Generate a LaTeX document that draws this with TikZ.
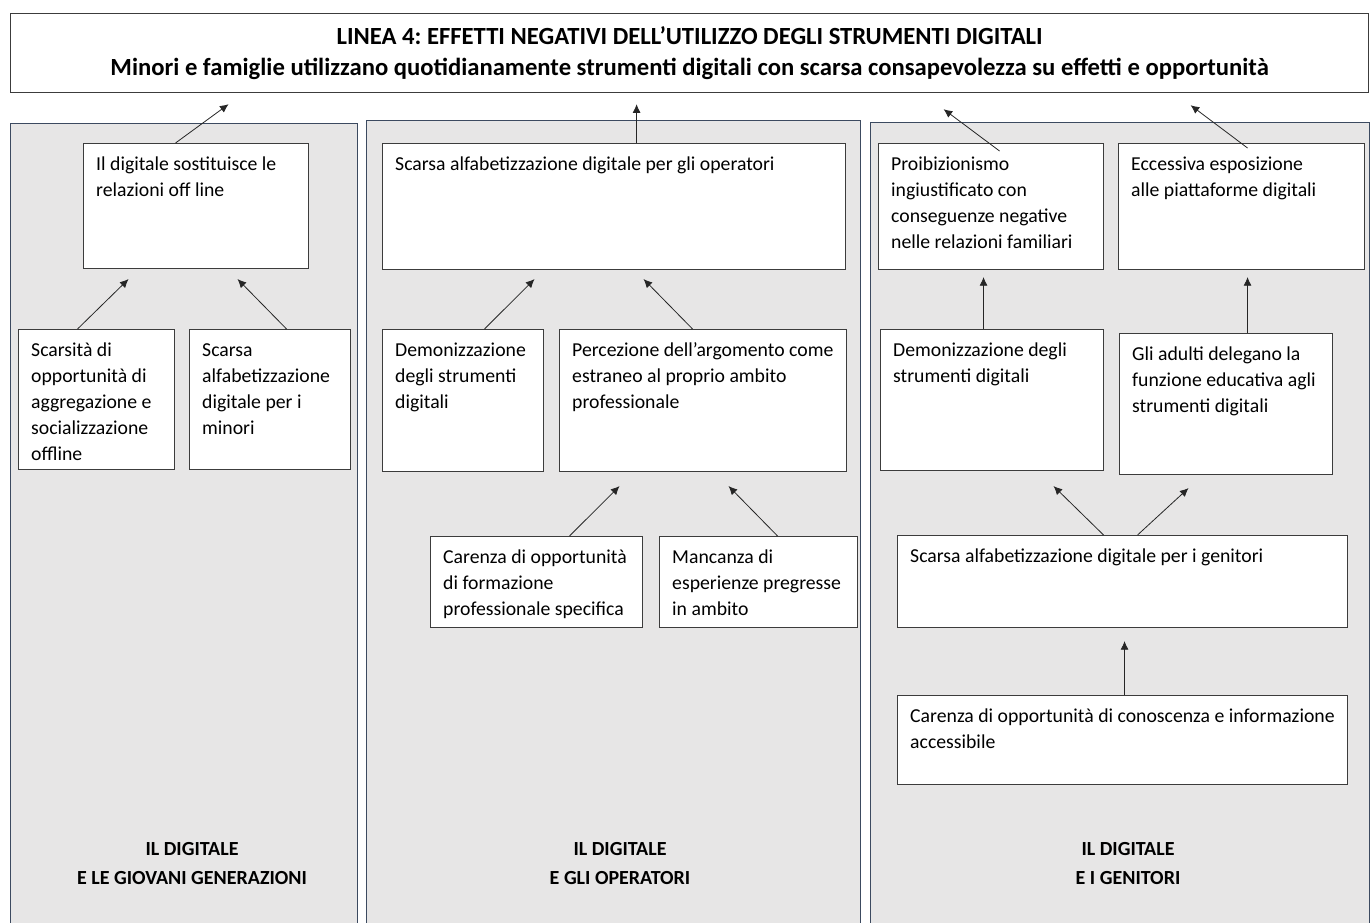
\documentclass[tikz,border=0pt]{standalone}
\usepackage{fontspec}
\setmainfont{Carlito}
\usepackage{tikz}
\usetikzlibrary{arrows.meta,calc}
\definecolor{panelgray}{RGB}{231,230,230}
\definecolor{panelblue}{RGB}{60,74,96}
\definecolor{boxgray}{RGB}{60,60,60}
\frenchspacing
\tikzset{
    titlebox/.style={rectangle, draw=boxgray, fill=white, line width=0.9pt, anchor=north west, align=center, font=\bfseries\fontsize{18.5}{23.25}\selectfont},
    panel/.style={rectangle, draw=panelblue, fill=panelgray, line width=1.1pt, anchor=north west, inner sep=0pt},
    cause/.style={rectangle, draw=boxgray, fill=white, line width=0.8pt, anchor=north west, align=flush left, inner xsep=9.5pt, inner ysep=0pt, text height=20pt, font=\fontsize{14.8}{19.5}\selectfont},
    myarrow/.style={-{Latex[length=6.5pt,width=6pt]}, draw=black!85, line width=0.6pt},
    mylabel/.style={align=center, font=\bfseries\fontsize{15}{21.75}\selectfont}
}
\begin{document}
\begin{tikzpicture}[x=0.75pt, y=-0.75pt]
\useasboundingbox (0,0) rectangle (1370,923);
\node[titlebox, minimum width=1018.5pt, minimum height=59.25pt] (title) at (10,13) {LINEA 4: EFFETTI NEGATIVI DELL’UTILIZZO DEGLI STRUMENTI DIGITALI\\Minori e famiglie utilizzano quotidianamente strumenti digitali con scarsa consapevolezza su effetti e opportunità};

\node[panel, minimum width=260.25pt, minimum height=609pt] (giovani) at (10,123) {};
\node[panel, minimum width=370.5pt, minimum height=611pt] (operatori) at (366,120) {};
\node[panel, minimum width=374.25pt, minimum height=610pt] (genitori) at (870,122) {};

\node[cause, text width=149.75pt, text depth=73.75pt] (sostituisce) at (83,143) {Il digitale sostituisce le\\relazioni off line};
\node[cause, text width=98pt, text depth=85pt] (aggregazione) at (18,329) {Scarsità di\\opportunità di\\aggregazione e\\socializzazione\\offline};
\node[cause, text width=101.75pt, text depth=85pt] (alfaminori) at (189,329) {Scarsa\\alfabetizzazione\\digitale per i\\minori};

\node[cause, text width=328.25pt, text depth=74.5pt] (alfaoperatori) at (382,143) {Scarsa alfabetizzazione digitale per gli operatori};
\node[cause, text width=101.75pt, text depth=86.5pt] (demonop) at (382,329) {Demonizzazione\\degli strumenti\\digitali};
\node[cause, text width=196.25pt, text depth=86.5pt] (percezione) at (559,329) {Percezione dell’argomento come\\estraneo al proprio ambito\\professionale};
\node[cause, text width=140pt, text depth=48.25pt] (formazione) at (430,536) {Carenza di opportunità\\di formazione\\professionale specifica};
\node[cause, text width=129.5pt, text depth=48.25pt] (esperienze) at (659,536) {Mancanza di\\esperienze pregresse\\in ambito};

\node[cause, text width=149.75pt, text depth=74.5pt] (proibizionismo) at (878,143) {Proibizionismo\\ingiustificato con\\conseguenze negative\\nelle relazioni familiari};
\node[cause, text width=165.5pt, text depth=74.5pt] (esposizione) at (1118,143) {Eccessiva esposizione\\alle piattaforme digitali};
\node[cause, text width=148.25pt, text depth=85.75pt] (demongen) at (880,329) {Demonizzazione degli\\strumenti digitali};
\node[cause, text width=140.75pt, text depth=85.75pt] (delegano) at (1119,333) {Gli adulti delegano la\\funzione educativa agli\\strumenti digitali};
\node[cause, text width=318.5pt, text depth=49pt] (alfagenitori) at (897,535) {Scarsa alfabetizzazione digitale per i genitori};
\node[cause, text width=318.5pt, text depth=46.75pt] (conoscenza) at (897,695) {Carenza di opportunità di conoscenza e informazione\\accessibile};

\node[mylabel] (labgiovani) at (192,864) {IL DIGITALE\\E LE GIOVANI GENERAZIONI};
\node[mylabel] (laboperatori) at (620,864) {IL DIGITALE\\E GLI OPERATORI};
\node[mylabel] (labgenitori) at (1128,864) {IL DIGITALE\\E I GENITORI};

\draw[myarrow] ($(sostituisce.north)+(-20.5,0)$) -- ($(title.south)+(-461,11)$);
\draw[myarrow] ($(aggregazione.north)+(-19,0)$) -- ($(sostituisce.south)+(-67.5,10)$);
\draw[myarrow] ($(alfaminori.north)+(16.5,0)$) -- ($(sostituisce.south)+(41.5,10)$);

\draw[myarrow] ($(alfaoperatori.north)+(22.5,0)$) -- ($(title.south)+(-53,11)$);
\draw[myarrow] ($(demonop.north)+(21.5,0)$) -- ($(alfaoperatori.south)+(-79.5,9)$);
\draw[myarrow] ($(percezione.north)+(-10.5,0)$) -- ($(alfaoperatori.south)+(29.5,9)$);
\draw[myarrow] ($(formazione.north)+(33,0)$) -- ($(percezione.south)+(-83.5,14)$);
\draw[myarrow] ($(esperienze.north)+(19,0)$) -- ($(percezione.south)+(25.5,14)$);

\draw[myarrow] ($(proibizionismo.north)+(8.5,8)$) -- ($(title.south)+(254,16)$);
\draw[myarrow] ($(esposizione.north)+(6,5)$) -- ($(title.south)+(501,12)$);
\draw[myarrow] ($(demongen.north)+(-8.5,0)$) -- ($(proibizionismo.south)+(-7.5,7)$);
\draw[myarrow] ($(delegano.north)+(21.5,0)$) -- ($(esposizione.south)+(6,7)$);
\draw[myarrow] ($(alfagenitori.north)+(-19,0)$) -- ($(demongen.south)+(61.5,15)$);
\draw[myarrow] ($(alfagenitori.north)+(15,0)$) -- ($(delegano.south)+(-37.5,13)$);
\draw[myarrow] ($(conoscenza.north)+(2,0)$) -- ($(alfagenitori.south)+(2,13)$);
\end{tikzpicture}
\end{document}
